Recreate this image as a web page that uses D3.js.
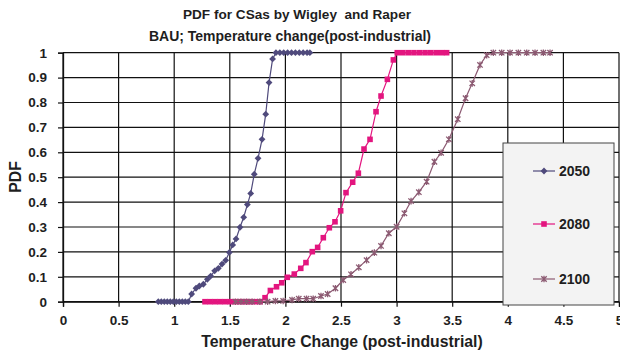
<!DOCTYPE html>
<html>
<head>
<meta charset="utf-8">
<script src="https://cdn.jsdelivr.net/npm/d3@7"></script>
<style>
  html, body { margin: 0; padding: 0; background: #fff; }
  svg { display: block; font-family: "Liberation Sans", Arial, sans-serif; }
  text { white-space: pre; }
</style>
</head>
<body>
<svg id="chart" width="620" height="350"></svg>
<script>
// Cumulative probability curves of post-industrial warming, three horizons
const seriesNames = ["2050", "2080", "2100"];

const temp2050 = [0.857, 0.884, 0.911, 0.938, 0.965, 0.992, 1.019, 1.046, 1.073, 1.100, 1.127,
  1.157, 1.196, 1.226, 1.262, 1.298, 1.328, 1.364, 1.397, 1.430, 1.463, 1.496, 1.526, 1.556,
  1.592, 1.625, 1.658, 1.688, 1.720, 1.754, 1.790, 1.823, 1.853, 1.885,
  1.915, 1.950, 1.985, 2.020, 2.055, 2.090, 2.125, 2.160, 2.195, 2.220];
const pdf2050 = [0, 0, 0, 0, 0, 0, 0, 0, 0, 0, 0,
  0.031, 0.054, 0.063, 0.070, 0.090, 0.103, 0.124, 0.134, 0.151, 0.166, 0.198, 0.228, 0.252,
  0.299, 0.339, 0.390, 0.435, 0.512, 0.576, 0.652, 0.753, 0.880, 0.975,
  1, 1, 1, 1, 1, 1, 1, 1, 1, 1];

const temp2080 = [1.277, 1.322, 1.367, 1.412, 1.457, 1.502, 1.547, 1.592, 1.637, 1.682, 1.727, 1.772,
  1.817, 1.865, 1.920, 1.967, 2.017, 2.080, 2.138, 2.185, 2.242, 2.290, 2.341, 2.395, 2.446,
  2.497, 2.545, 2.605, 2.656, 2.707, 2.761, 2.815, 2.860, 2.917, 2.971,
  3.006, 3.056, 3.106, 3.156, 3.206, 3.256, 3.306, 3.356, 3.406, 3.450];
const pdf2080 = [0, 0, 0, 0, 0, 0, 0, 0, 0, 0, 0, 0,
  0.016, 0.045, 0.060, 0.076, 0.098, 0.111, 0.134, 0.157, 0.201, 0.218, 0.257, 0.297, 0.321,
  0.365, 0.438, 0.480, 0.516, 0.613, 0.652, 0.763, 0.826, 0.893, 0.971,
  1, 1, 1, 1, 1, 1, 1, 1, 1, 1];

const temp2100 = [1.55, 1.60, 1.65, 1.70, 1.77, 1.84,
  1.91, 1.98, 2.06, 2.12, 2.19, 2.25, 2.32, 2.38, 2.45, 2.52, 2.59, 2.66, 2.73, 2.80, 2.86,
  2.93, 3.00, 3.07, 3.13, 3.20, 3.27, 3.34, 3.40, 3.47, 3.55, 3.62, 3.68, 3.75, 3.81,
  3.87, 3.945, 4.02, 4.095, 4.17, 4.245, 4.32, 4.38];
const pdf2100 = [0, 0, 0, 0, 0, 0,
  0.003, 0.003, 0.007, 0.012, 0.012, 0.012, 0.023, 0.031, 0.054, 0.087, 0.110, 0.138, 0.167, 0.197, 0.224,
  0.275, 0.301, 0.355, 0.404, 0.440, 0.482, 0.562, 0.598, 0.652, 0.733, 0.817, 0.877, 0.951, 0.990,
  1, 1, 1, 1, 1, 1, 1, 1];

const xTicks = [0, 0.5, 1, 1.5, 2, 2.5, 3, 3.5, 4, 4.5, 5];
const yTicks = [0, 0.1, 0.2, 0.3, 0.4, 0.5, 0.6, 0.7, 0.8, 0.9, 1];

const titleLines = ["PDF for CSas by Wigley  and Raper", "BAU; Temperature change(post-industrial)"];
const xTitle = "Temperature Change (post-industrial)";
const yTitle = "PDF";

const colors = ["#4f4a7c", "#e3157f", "#8c5a72"];
const symbols = ["diamond", "square", "asterisk"];

const svg = d3.select("#chart");

const x = d3.scaleLinear().domain([0, 5]).range([63, 619]);
const y = d3.scaleLinear().domain([0, 1]).range([301.7, 52.7]);

const ink = "#1e1e1e";

// titles
svg.append("text").attr("x", 297).attr("y", 19).attr("text-anchor", "middle")
  .attr("font-size", 13.6).attr("font-weight", "bold").attr("fill", ink).text(titleLines[0]);
svg.append("text").attr("x", 290).attr("y", 41).attr("text-anchor", "middle")
  .attr("font-size", 14).attr("font-weight", "bold").attr("fill", ink).text(titleLines[1]);

// grid
const grid = svg.append("g").attr("stroke", "#111").attr("stroke-width", 1.2);
grid.selectAll("line.h").data(yTicks).join("line")
  .attr("x1", x(0)).attr("x2", x(5))
  .attr("y1", d => y(d)).attr("y2", d => y(d));
grid.selectAll("line.v").data(xTicks).join("line")
  .attr("y1", y(0)).attr("y2", y(1))
  .attr("x1", d => x(d)).attr("x2", d => x(d));

// axes
const xAxis = d3.axisBottom(x).tickValues(xTicks).tickSize(5).tickPadding(9).tickFormat(d3.format("~g"));
const yAxis = d3.axisLeft(y).tickValues(yTicks).tickSize(5).tickPadding(11).tickFormat(d3.format("~g"));

const gx = svg.append("g").attr("transform", `translate(0,${y(0)})`).call(xAxis);
const gy = svg.append("g").attr("transform", `translate(${x(0)},0)`).call(yAxis);
[gx, gy].forEach(g => {
  g.select(".domain").attr("stroke", "#111").attr("stroke-width", 1.3);
  g.selectAll(".tick line").attr("stroke", "#111").attr("stroke-width", 1.2);
  g.selectAll(".tick text").attr("font-size", 13.5).attr("font-weight", "bold")
    .attr("fill", ink).attr("font-family", "Liberation Sans, Arial, sans-serif");
});

svg.append("text").attr("x", 342).attr("y", 347).attr("text-anchor", "middle")
  .attr("font-size", 15.8).attr("font-weight", "bold").attr("fill", ink).text(xTitle);
svg.append("text").attr("transform", "translate(21,177) rotate(-90)").attr("text-anchor", "middle")
  .attr("font-size", 15.8).attr("font-weight", "bold").attr("fill", ink).text(yTitle);

// marker shapes
function markerPath(kind) {
  if (kind === "diamond") return "M0,-3.4L3.4,0L0,3.4L-3.4,0Z";
  if (kind === "square") return "M-2.8,-2.8H2.8V2.8H-2.8Z";
  return "M-2.7,-2.7L2.7,2.7M-2.7,2.7L2.7,-2.7M0,-3.3V3.3";
}

function drawMarker(g, kind, color, cx, cy) {
  const p = g.append("path").attr("d", markerPath(kind))
    .attr("transform", `translate(${cx},${cy})`);
  if (kind === "asterisk") p.attr("fill", "none").attr("stroke", color).attr("stroke-width", 1.3);
  else p.attr("fill", color).attr("stroke", "none");
}

const allSeries = [
  { temps: temp2050, pdfs: pdf2050 },
  { temps: temp2080, pdfs: pdf2080 },
  { temps: temp2100, pdfs: pdf2100 }
];

const line = d3.line().x(d => x(d[0])).y(d => y(d[1]));

allSeries.forEach((s, i) => {
  const pts = d3.zip(s.temps, s.pdfs);
  const g = svg.append("g");
  g.append("path").datum(pts).attr("d", line)
    .attr("fill", "none").attr("stroke", colors[i]).attr("stroke-width", 1.2);
  pts.forEach(p => drawMarker(g, symbols[i], colors[i], x(p[0]), y(p[1])));
});

// legend
const lg = svg.append("g");
lg.append("rect").attr("x", 503).attr("y", 143).attr("width", 111).attr("height", 162)
  .attr("fill", "#f3f3f3").attr("stroke", "#444").attr("stroke-width", 1);
const legendY = [171, 224, 279];
seriesNames.forEach((name, i) => {
  lg.append("line").attr("x1", 533).attr("x2", 555).attr("y1", legendY[i]).attr("y2", legendY[i])
    .attr("stroke", colors[i]).attr("stroke-width", 1.2);
  drawMarker(lg, symbols[i], colors[i], 544, legendY[i]);
  lg.append("text").attr("x", 559).attr("y", legendY[i]).attr("dy", "0.36em")
    .attr("font-size", 14).attr("font-weight", "bold").attr("fill", ink).text(name);
});
</script>
</body>
</html>
